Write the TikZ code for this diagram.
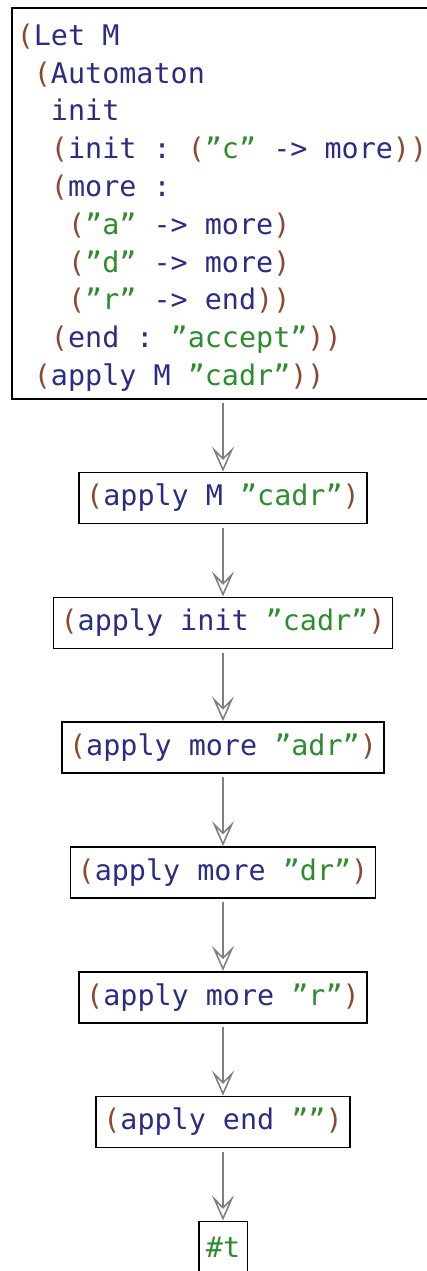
\documentclass[tikz,border=0pt]{standalone}
\usepackage{fontspec}
\setmonofont{DejaVu Sans Mono}
\usetikzlibrary{arrows.meta,positioning}
\definecolor{parencol}{HTML}{8B4A2E}
\definecolor{namecol}{HTML}{2B2D84}
\definecolor{litcol}{HTML}{2E8B2E}
\newcommand{\brk}[1]{\textcolor{parencol}{#1}}
\newcommand{\lit}[1]{\textcolor{litcol}{#1}}
\tikzset{
    term/.style={
           rectangle,
           draw=black,
           line width=1.6pt,
           minimum height=51pt,
           inner xsep=7.2pt,
           inner ysep=0pt,
           text=namecol,
           font=\ttfamily\fontsize{28.4pt}{37.8pt}\selectfont,
           },
    reduce/.style={
           -{Stealth[open,length=25pt,width=22pt,inset=11pt]},
           draw=gray,
           line width=1.6pt,
           shorten <=3.5pt,
           },
}
\begin{document}
\begin{tikzpicture}[node distance=124.8pt]
\useasboundingbox (0,0) rectangle (426pt,-1271pt);
\node[term,anchor=north west,align=left,minimum height=391pt,inner xsep=5pt](program) at (11pt,-7pt)
  {\rule{0pt}{30pt}\brk{(}Let M\\
   \ \brk{(}Automaton\\
   \ \ init\\
   \ \ \brk{(}init : \brk{(}\lit{”c”} -> more\brk{))}\\
   \ \ \brk{(}more :\\
   \ \ \ \brk{(}\lit{”a”} -> more\brk{)}\\
   \ \ \ \brk{(}\lit{”d”} -> more\brk{)}\\
   \ \ \ \brk{(}\lit{”r”} -> end\brk{))}\\
   \ \ \brk{(}end : \lit{”accept”}\brk{))}\\
   \ \brk{(}apply M \lit{”cadr”}\brk{))}};
\node[term](applyM) at (223pt,-498pt){\brk{(}apply M \lit{”cadr”}\brk{)}};
\node[term,below of=applyM](applyinit){\brk{(}apply init \lit{”cadr”}\brk{)}};
\node[term,below of=applyinit](applyadr){\brk{(}apply more \lit{”adr”}\brk{)}};
\node[term,below of=applyadr](applydr){\brk{(}apply more \lit{”dr”}\brk{)}};
\node[term,below of=applydr](applyr){\brk{(}apply more \lit{”r”}\brk{)}};
\node[term,below of=applyr](applyend){\brk{(}apply end \lit{””}\brk{)}};
\node[term,below of=applyend,text=litcol](accepted){\#t};
\draw[reduce] (applyM |- program.south) -- (applyM);
\path[reduce] (applyM) edge (applyinit)
      (applyinit) edge (applyadr)
      (applyadr) edge (applydr)
      (applydr) edge (applyr)
      (applyr) edge (applyend)
      (applyend) edge (accepted);
\end{tikzpicture}
\end{document}
